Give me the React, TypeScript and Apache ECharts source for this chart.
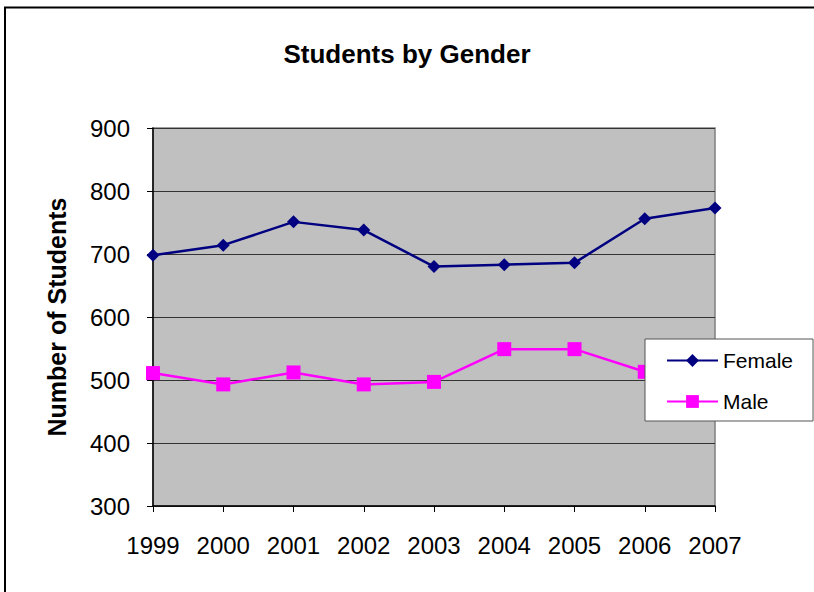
import React, { useEffect, useRef } from "react";
import * as echarts from "echarts";

const years = ["1999", "2000", "2001", "2002", "2003", "2004", "2005", "2006", "2007"];
const female = [698, 714, 751, 738, 680, 683, 686, 756, 773];
const male = [511, 493, 512, 493, 497, 549, 549, 513, 510];

const FONT = "Liberation Sans, Arial, sans-serif";

export default function App() {
  const ref = useRef<HTMLDivElement>(null);
  useEffect(() => {
    document.body.style.margin = "0";
    const chart = echarts.init(ref.current!, null, { renderer: "svg" });
    chart.setOption({
      animation: false,
      backgroundColor: "#ffffff",
      textStyle: { fontFamily: FONT },
      title: {
        text: "Students by Gender",
        left: "center",
        top: 36,
        textStyle: { fontFamily: FONT, fontSize: 26, fontWeight: "bold", color: "#000" },
      },
      graphic: [
        {
          type: "rect",
          shape: { x: 5, y: 7.5, width: 900, height: 700 },
          style: { fill: "none", stroke: "#000", lineWidth: 2 },
          silent: true,
        },
      ],
      legend: {
        orient: "vertical",
        left: 645,
        top: 339,
        padding: [11, 20, 9, 21],
        itemGap: 20,
        itemWidth: 51,
        itemHeight: 16,
        backgroundColor: "#ffffff",
        borderColor: "#555",
        borderWidth: 1,
        textStyle: { fontFamily: FONT, fontSize: 21, color: "#000" },
        data: ["Female", "Male"],
      },
      grid: {
        left: 153,
        top: 128,
        right: 99,
        bottom: 86,
        show: true,
        backgroundColor: "#C0C0C0",
        borderColor: "#808080",
        borderWidth: 1.5,
        containLabel: false,
      },
      xAxis: {
        type: "category",
        data: years,
        boundaryGap: false,
        axisLine: { show: true, lineStyle: { color: "#000", width: 1.5 } },
        axisTick: { show: true, alignWithLabel: true, length: 6, lineStyle: { color: "#000" } },
        axisLabel: { fontFamily: FONT, fontSize: 24, color: "#000", margin: 27 },
        splitLine: { show: false },
      },
      yAxis: {
        type: "value",
        min: 300,
        max: 900,
        interval: 100,
        name: "Number of Students",
        nameLocation: "middle",
        nameGap: 84,
        nameTextStyle: { fontFamily: FONT, fontSize: 25, fontWeight: "bold", color: "#000" },
        axisLine: { show: true, lineStyle: { color: "#000", width: 1.5 } },
        axisTick: { show: true, length: 6, lineStyle: { color: "#000" } },
        axisLabel: { fontFamily: FONT, fontSize: 24, color: "#000", margin: 23 },
        splitLine: { show: true, lineStyle: { color: "#333", width: 1 } },
      },
      series: [
        {
          name: "Female",
          type: "line",
          data: female,
          symbol: "diamond",
          symbolSize: 13,
          showAllSymbol: true,
          lineStyle: { color: "#000080", width: 2.5 },
          itemStyle: { color: "#000080" },
          z: 3,
        },
        {
          name: "Male",
          type: "line",
          data: male,
          symbol: "rect",
          symbolSize: 14,
          showAllSymbol: true,
          lineStyle: { color: "#FF00FF", width: 2.5 },
          itemStyle: { color: "#FF00FF" },
          z: 2,
        },
      ],
    });
    return () => chart.dispose();
  }, []);
  return <div ref={ref} style={{ width: 814, height: 592 }} />;
}
